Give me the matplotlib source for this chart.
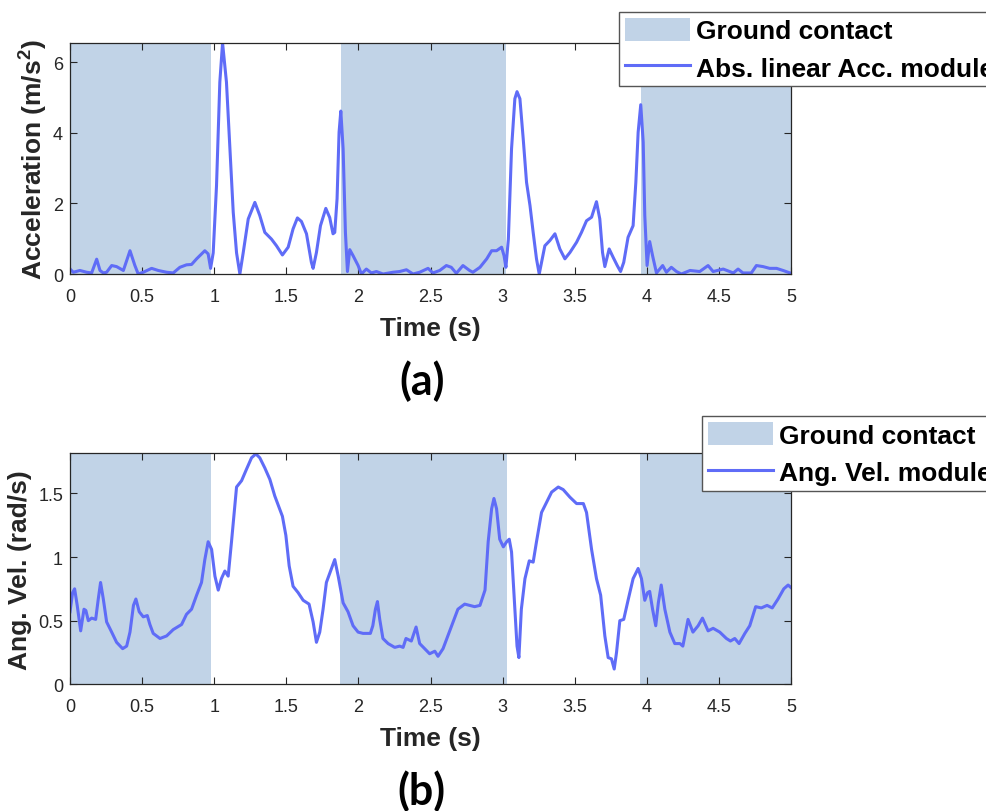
import matplotlib
matplotlib.use('Agg')
import matplotlib.pyplot as plt
from matplotlib.ticker import FuncFormatter

# acceleration module (m/s^2) vs time (s)
t_acc = [0.0, 0.023, 0.069, 0.115, 0.150, 0.185, 0.208, 0.231, 0.254, 0.289,
         0.323, 0.370, 0.416, 0.450, 0.473, 0.508, 0.566, 0.612, 0.670, 0.716,
         0.762, 0.808, 0.843, 0.878, 0.935, 0.958, 0.975, 0.993, 1.016, 1.039,
         1.058, 1.085, 1.109, 1.132, 1.155, 1.178, 1.201, 1.236, 1.282, 1.316,
         1.351, 1.397, 1.432, 1.473, 1.513, 1.547, 1.577, 1.605, 1.640, 1.674,
         1.686, 1.709, 1.737, 1.774, 1.801, 1.824, 1.836, 1.852, 1.866, 1.878,
         1.894, 1.910, 1.924, 1.940, 1.963, 1.998, 2.021, 2.055, 2.090, 2.125,
         2.171, 2.240, 2.286, 2.333, 2.379, 2.425, 2.483, 2.517, 2.564, 2.610,
         2.644, 2.679, 2.725, 2.771, 2.794, 2.843, 2.890, 2.924, 2.958, 2.993,
         3.010, 3.023, 3.040, 3.062, 3.085, 3.100, 3.120, 3.143, 3.166, 3.190,
         3.212, 3.235, 3.254, 3.270, 3.293, 3.328, 3.363, 3.397, 3.432, 3.467,
         3.513, 3.547, 3.582, 3.617, 3.651, 3.674, 3.693, 3.709, 3.739, 3.767,
         3.795, 3.818, 3.840, 3.870, 3.905, 3.924, 3.940, 3.958, 3.975, 3.986,
         4.002, 4.020, 4.040, 4.067, 4.110, 4.136, 4.170, 4.206, 4.240, 4.300,
         4.367, 4.425, 4.460, 4.530, 4.600, 4.633, 4.667, 4.725, 4.760, 4.806,
         4.852, 4.900, 4.945, 5.000]
acc = [0.14, 0.05, 0.10, 0.05, 0.03, 0.42, 0.10, 0.03, 0.05, 0.24,
       0.21, 0.10, 0.66, 0.24, 0.0, 0.05, 0.16, 0.10, 0.05, 0.03,
       0.19, 0.26, 0.27, 0.43, 0.66, 0.57, 0.16, 0.60, 2.50, 5.44,
       6.55, 5.44, 3.55, 1.75, 0.60, 0.0, 0.60, 1.56, 2.03, 1.66,
       1.18, 0.99, 0.80, 0.54, 0.76, 1.28, 1.59, 1.49, 1.14, 0.33,
       0.16, 0.61, 1.37, 1.86, 1.60, 1.14, 1.18, 2.13, 4.02, 4.62,
       3.55, 1.18, 0.07, 0.69, 0.52, 0.24, 0.0, 0.14, 0.03, 0.07,
       0.0, 0.05, 0.07, 0.12, 0.0, 0.05, 0.16, 0.03, 0.10, 0.24,
       0.19, 0.02, 0.24, 0.10, 0.05, 0.19, 0.43, 0.66, 0.66, 0.76,
       0.52, 0.19, 0.99, 3.55, 4.97, 5.17, 4.97, 3.83, 2.60, 1.94,
       1.18, 0.43, 0.0, 0.33, 0.80, 0.95, 1.14, 0.71, 0.43, 0.61,
       0.90, 1.18, 1.51, 1.61, 2.05, 1.56, 0.61, 0.21, 0.71, 0.47,
       0.24, 0.07, 0.33, 1.04, 1.37, 2.60, 4.02, 4.80, 3.74, 1.66,
       0.24, 0.92, 0.52, 0.03, 0.24, 0.05, 0.19, 0.07, 0.0, 0.10,
       0.07, 0.24, 0.07, 0.14, 0.03, 0.14, 0.03, 0.03, 0.24, 0.21,
       0.16, 0.16, 0.10, 0.02]

# angular velocity module (rad/s) vs time (s)
t_gyr = [0.0, 0.018, 0.032, 0.050, 0.074, 0.097, 0.110, 0.127, 0.150, 0.178,
         0.196, 0.212, 0.231, 0.254, 0.289, 0.323, 0.365, 0.393, 0.416, 0.440,
         0.457, 0.480, 0.508, 0.536, 0.554, 0.577, 0.624, 0.670, 0.716, 0.774,
         0.808, 0.843, 0.878, 0.912, 0.935, 0.958, 0.982, 1.005, 1.028, 1.050,
         1.074, 1.097, 1.120, 1.155, 1.190, 1.224, 1.259, 1.289, 1.316, 1.351,
         1.386, 1.420, 1.473, 1.497, 1.520, 1.547, 1.582, 1.617, 1.658, 1.686,
         1.709, 1.732, 1.755, 1.778, 1.813, 1.836, 1.860, 1.894, 1.928, 1.963,
         1.998, 2.032, 2.083, 2.100, 2.118, 2.132, 2.148, 2.170, 2.206, 2.252,
         2.286, 2.310, 2.330, 2.367, 2.400, 2.425, 2.460, 2.494, 2.530, 2.552,
         2.587, 2.620, 2.656, 2.690, 2.737, 2.771, 2.806, 2.843, 2.878, 2.900,
         2.924, 2.940, 2.958, 2.980, 3.005, 3.028, 3.046, 3.062, 3.085, 3.100,
         3.113, 3.130, 3.155, 3.185, 3.212, 3.235, 3.270, 3.305, 3.340, 3.386,
         3.420, 3.467, 3.513, 3.560, 3.582, 3.617, 3.651, 3.680, 3.709, 3.732,
         3.755, 3.774, 3.790, 3.813, 3.840, 3.870, 3.905, 3.940, 3.963, 3.986,
         4.005, 4.020, 4.040, 4.062, 4.080, 4.100, 4.125, 4.160, 4.194, 4.230,
         4.250, 4.286, 4.320, 4.356, 4.386, 4.425, 4.460, 4.506, 4.552, 4.580,
         4.610, 4.640, 4.680, 4.714, 4.755, 4.794, 4.834, 4.870, 4.910, 4.950,
         4.980, 5.000]
gyr = [0.57, 0.72, 0.75, 0.62, 0.42, 0.59, 0.58, 0.50, 0.52, 0.51,
       0.67, 0.80, 0.67, 0.49, 0.41, 0.33, 0.28, 0.30, 0.41, 0.62,
       0.67, 0.57, 0.53, 0.54, 0.47, 0.40, 0.36, 0.38, 0.43, 0.47,
       0.55, 0.59, 0.70, 0.80, 0.98, 1.12, 1.06, 0.85, 0.74, 0.83,
       0.89, 0.85, 1.12, 1.55, 1.60, 1.69, 1.78, 1.81, 1.78, 1.70,
       1.61, 1.48, 1.32, 1.17, 0.93, 0.77, 0.72, 0.66, 0.63, 0.49,
       0.33, 0.41, 0.59, 0.80, 0.91, 0.98, 0.85, 0.64, 0.57, 0.46,
       0.41, 0.40, 0.40, 0.46, 0.59, 0.65, 0.51, 0.36, 0.32, 0.29,
       0.30, 0.29, 0.36, 0.34, 0.45, 0.32, 0.28, 0.24, 0.26, 0.22,
       0.28, 0.38, 0.49, 0.59, 0.63, 0.62, 0.61, 0.62, 0.74, 1.12,
       1.38, 1.46, 1.38, 1.14, 1.08, 1.12, 1.14, 1.04, 0.59, 0.30,
       0.21, 0.59, 0.83, 0.97, 0.96, 1.12, 1.35, 1.43, 1.51, 1.55,
       1.53, 1.47, 1.42, 1.42, 1.35, 1.06, 0.83, 0.70, 0.38, 0.21,
       0.20, 0.12, 0.25, 0.50, 0.51, 0.66, 0.83, 0.91, 0.83, 0.66,
       0.72, 0.73, 0.59, 0.46, 0.64, 0.78, 0.59, 0.41, 0.32, 0.32,
       0.30, 0.51, 0.41, 0.46, 0.52, 0.42, 0.44, 0.41, 0.36, 0.34,
       0.36, 0.32, 0.40, 0.46, 0.61, 0.60, 0.62, 0.60, 0.67, 0.75,
       0.78, 0.76]

# ground contact phases (start, end) in s
contact_acc = [(0.0, 0.975), (1.877, 3.024), (3.957, 5.0)]
contact_gyr = [(0.0, 0.978), (1.872, 3.028), (3.955, 5.0)]

line_col = '#5f6cf7'
shade_col = '#c1d3e7'
edge_col = '#262626'

plt.rcParams['font.family'] = 'Liberation Sans'
plt.rcParams['mathtext.fontset'] = 'custom'
plt.rcParams['mathtext.rm'] = 'Liberation Sans'
plt.rcParams['mathtext.bf'] = 'Liberation Sans:bold'

fig = plt.figure(figsize=(9.87, 8.12), dpi=100)
ax1 = fig.add_axes([70/987, 1 - 275/812, 721/987, 231/812])
ax2 = fig.add_axes([70/987, 1 - 685.3/812, 721/987, 231/812])

fmt = FuncFormatter(lambda v, p: '%g' % v)

def draw_panel(ax, t, y, spans, ymax, yticks, ylabel, line_label, leg_xy, ylpad):
	for i, (a, b) in enumerate(spans):
		ax.axvspan(a, b, color=shade_col, lw=0,
		           label='Ground contact' if i == 0 else None)
	ax.plot(t, y, color=line_col, lw=2.2, label=line_label)
	ax.set_xlim(0, 5)
	ax.set_ylim(0, ymax)
	ax.set_xticks([0, 0.5, 1, 1.5, 2, 2.5, 3, 3.5, 4, 4.5, 5])
	ax.set_yticks(yticks)
	ax.xaxis.set_major_formatter(fmt)
	ax.yaxis.set_major_formatter(fmt)
	ax.tick_params(direction='in', length=5, width=0.8, color=edge_col,
	               labelsize=13, labelcolor='#262626', top=True, right=True)
	ax.tick_params(axis='x', pad=10)
	ax.tick_params(axis='y', pad=5)
	for s in ax.spines.values():
		s.set_color(edge_col)
		s.set_linewidth(0.9)
	ax.set_xlabel('Time (s)', fontsize=19, fontweight='bold', color='#262626', labelpad=8)
	ax.set_ylabel(ylabel, fontsize=19, fontweight='bold', color='#262626', labelpad=ylpad)
	leg = ax.legend(loc='upper left', bbox_to_anchor=leg_xy, bbox_transform=fig.transFigure,
	                borderaxespad=0, fancybox=False, framealpha=1, edgecolor='#555555',
	                prop={'weight': 'bold', 'size': 19}, handlelength=2.5,
	                handleheight=0.95, handletextpad=0.22, labelspacing=0.45,
	                borderpad=0.22)
	leg.get_frame().set_linewidth(1.0)

draw_panel(ax1, t_acc, acc, contact_acc, 6.55, [0, 2, 4, 6],
           r'Acceleration (m/s$^{\mathbf{2}}$)', 'Abs. linear Acc. module',
           (618.7/987, 1 - 13/812), 3)
draw_panel(ax2, t_gyr, gyr, contact_gyr, 1.815, [0, 0.5, 1, 1.5],
           'Ang. Vel. (rad/s)', 'Ang. Vel. module',
           (701.7/987, 1 - 417.3/812), 4)

fig.text(421.7/987, 1 - 381/812, '(a)', ha='center', va='center',
         fontsize=31, fontweight='bold', family='Lato')
fig.text(421.7/987, 1 - 791/812, '(b)', ha='center', va='center',
         fontsize=31, fontweight='bold', family='Lato')

fig.savefig('out.png', dpi=100)
